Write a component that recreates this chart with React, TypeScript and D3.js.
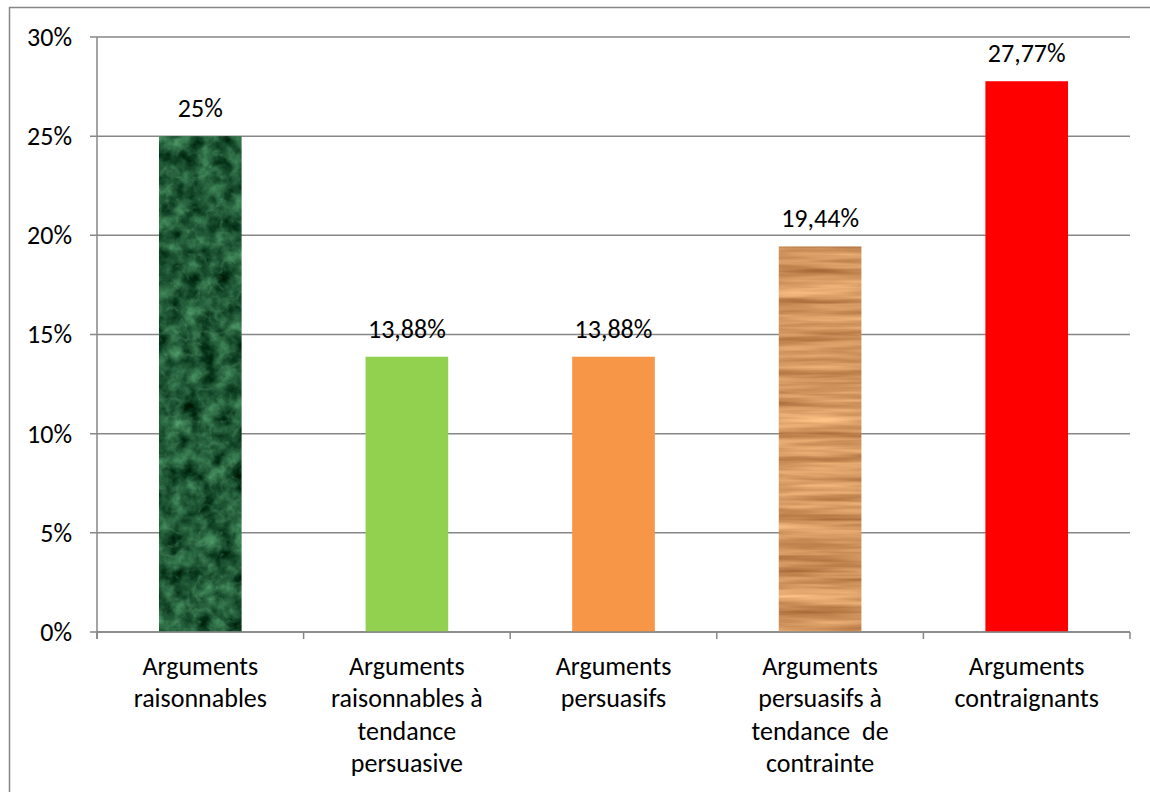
import React from "react";
import * as d3 from "d3";

const categories: string[] = [
  "Arguments\nraisonnables",
  "Arguments\nraisonnables à\ntendance\npersuasive",
  "Arguments\npersuasifs",
  "Arguments\npersuasifs à\ntendance  de\ncontrainte",
  "Arguments\ncontraignants",
];
const values: number[] = [25, 13.88, 13.88, 19.44, 27.77];
const valueLabels: string[] = ["25%", "13,88%", "13,88%", "19,44%", "27,77%"];
const fills: string[] = ["marble", "#92d050", "#f79646", "wood", "#ff0000"];
const yTicks: number[] = [0, 5, 10, 15, 20, 25, 30];

const W = 1150;
const H = 792;
const plot = { left: 97, right: 1130, top: 37, bottom: 632 };
const FONT = "Carlito, Lato, 'Open Sans', sans-serif";
const FS = 26;
const GRID = "#878787";

export default function App() {
  const x = d3
    .scaleBand<number>()
    .domain(d3.range(categories.length))
    .range([plot.left, plot.right])
    .paddingInner(0.6)
    .paddingOuter(0.3);
  const y = d3.scaleLinear().domain([0, 30]).range([plot.bottom, plot.top]);
  const step = x.step();
  const boundaries = d3.range(categories.length + 1).map((i) => plot.left + i * step);

  return (
    <svg
      width={W}
      height={H}
      style={{ position: "absolute", left: 0, top: 0, background: "#fff" }}
      fontFamily={FONT}
    >
      <defs>
        {/* green marble: soft mottling plus pale veins */}
        <filter
          id="marbleFx"
          filterUnits="userSpaceOnUse"
          x={0}
          y={0}
          width={W}
          height={H}
          colorInterpolationFilters="sRGB"
        >
          <feTurbulence type="fractalNoise" baseFrequency="0.06" numOctaves={4} seed={5} result="n" />
          <feColorMatrix
            in="n"
            type="matrix"
            values="0.45 0 0 0 -0.1  0.65 0 0 0 0.02  0.5 0 0 0 -0.04  0 0 0 0 1"
            result="base"
          />
          <feTurbulence type="turbulence" baseFrequency="0.045" numOctaves={3} seed={11} result="t" />
          <feColorMatrix
            in="t"
            type="matrix"
            values="0 0 0 0 0.4  0 0 0 0 0.66  0 0 0 0 0.48  -1.6 0 0 0 0.3"
            result="veins"
          />
          <feComposite in="veins" in2="base" operator="over" result="c" />
          <feComposite in="c" in2="SourceGraphic" operator="in" />
        </filter>
        {/* wood grain: horizontal streaks */}
        <filter
          id="woodFx"
          filterUnits="userSpaceOnUse"
          x={0}
          y={0}
          width={W}
          height={H}
          colorInterpolationFilters="sRGB"
        >
          <feTurbulence type="fractalNoise" baseFrequency="0.008 0.13" numOctaves={3} seed={7} result="n" />
          <feColorMatrix
            in="n"
            type="matrix"
            values="0.45 0 0 0 0.6  0.45 0 0 0 0.36  0.4 0 0 0 0.17  0 0 0 0 1"
            result="c"
          />
          <feComposite in="c" in2="SourceGraphic" operator="in" />
        </filter>
      </defs>

      {/* chart frame */}
      <rect x={9.5} y={7.5} width={W} height={H} fill="#fff" stroke={GRID} strokeWidth={1.5} />

      {/* horizontal gridlines and y ticks */}
      {yTicks.map((t) => (
        <g key={t}>
          <line x1={plot.left - 7} x2={plot.right} y1={y(t)} y2={y(t)} stroke={GRID} strokeWidth={1.5} />
          <text x={72} y={y(t)} dy="0.34em" textAnchor="end" fontSize={FS} fill="#000">
            {t}%
          </text>
        </g>
      ))}

      {/* y axis */}
      <line x1={plot.left} x2={plot.left} y1={plot.top} y2={plot.bottom + 7} stroke={GRID} strokeWidth={1.5} />

      {/* bars */}
      {values.map((v, i) => {
        const bx = x(i)!;
        const bw = x.bandwidth();
        const by = y(v);
        const bh = y(0) - by;
        const f = fills[i];
        if (f === "marble") {
          return <rect key={i} x={bx} y={by} width={bw} height={bh} fill="#1e5a32" filter="url(#marbleFx)" />;
        }
        if (f === "wood") {
          return <rect key={i} x={bx} y={by} width={bw} height={bh} fill="#d29a60" filter="url(#woodFx)" />;
        }
        return <rect key={i} x={bx} y={by} width={bw} height={bh} fill={f} />;
      })}

      {/* x axis and category ticks */}
      <line x1={plot.left} x2={plot.right} y1={plot.bottom} y2={plot.bottom} stroke={GRID} strokeWidth={1.5} />
      {boundaries.map((bx, i) => (
        <line key={i} x1={bx} x2={bx} y1={plot.bottom} y2={plot.bottom + 7} stroke={GRID} strokeWidth={1.5} />
      ))}

      {/* value labels */}
      {values.map((v, i) => (
        <text
          key={i}
          x={x(i)! + x.bandwidth() / 2}
          y={y(v) - 19}
          textAnchor="middle"
          fontSize={FS}
          fill="#000"
        >
          {valueLabels[i]}
        </text>
      ))}

      {/* category labels */}
      {categories.map((c, i) => (
        <text
          key={i}
          textAnchor="middle"
          fontSize={FS}
          fill="#000"
          style={{ whiteSpace: "pre" }}
        >
          {c.split("\n").map((line, j) => (
            <tspan key={j} x={x(i)! + x.bandwidth() / 2} y={675 + j * 32.4}>
              {line}
            </tspan>
          ))}
        </text>
      ))}
    </svg>
  );
}
